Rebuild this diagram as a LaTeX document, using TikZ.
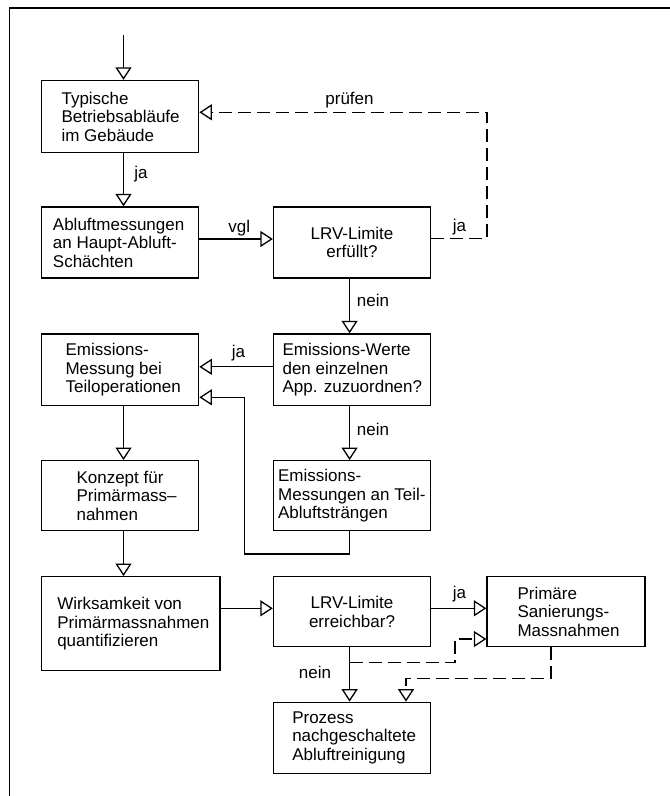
\documentclass[tikz,border=0pt]{standalone}
\usepackage{fontspec}
\setmainfont{Liberation Sans}
\usetikzlibrary{arrows.meta,calc}
\begin{document}
\begin{tikzpicture}[x=1pt,y=-1pt,
  every node/.style={font=\fontsize{17}{18.5}\selectfont},
  box/.style={draw, line width=1.3pt, minimum width=157pt, minimum height=71pt, inner sep=0pt, align=center},
  lt/.style={anchor=west, inner sep=0pt, align=left},
  conn/.style={line width=1.3pt, -{Triangle[open, length=12.5pt, width=16pt]}},
  dsh/.style={dash pattern=on 13pt off 6pt},
  lab/.style={anchor=base, inner sep=0pt}
]
\useasboundingbox (0,0) rectangle (670,796);
% frame
\draw[line width=1.5pt] (670,8) -- (9.3,8) -- (9.3,796);

% boxes
\node[box, minimum width=157.2pt, minimum height=72.2pt,
  label={[lt, xshift=20.5pt]west:{Typische\\Betriebsabläufe\\im Gebäude}}] (b1) at (120.1,116.6) {};
\node[box, minimum width=157.2pt,
  label={[lt, xshift=11.9pt]west:{Abluftmessungen\\an Haupt-Abluft-\\Schächten}}] (b2) at (120.1,242.5) {};
\node[box] (b3) at (352,242.5) {LRV-Limite\\erfüllt?};
\node[box, minimum width=157.2pt, minimum height=71.7pt,
  label={[lt, xshift=24.5pt]west:{Emissions-\\Messung bei\\Teiloperationen}}] (em) at (120.1,369.8) {};
\node[box, minimum height=71.7pt,
  label={[lt, xshift=9.5pt]west:{Emissions-Werte\\den einzelnen\\App. zuzuordnen?}}] (ew) at (352,369.8) {};
\node[box, minimum width=157.2pt, minimum height=70pt,
  label={[lt, xshift=35.5pt]west:{Konzept für\\Primärmass–\\nahmen}}] (ko) at (120.1,495.7) {};
\node[box, minimum height=70pt,
  label={[lt, xshift=5.1pt]west:{Emissions-\\Messungen an Teil-\\Abluftsträngen}}] (te) at (352,495.7) {};
\node[box, minimum width=178.5pt, minimum height=94pt,
  label={[lt, xshift=16.2pt]west:{Wirksamkeit von\\Primärmassnahmen\\quantifizieren}}] (wi) at (130.75,623.7) {};
\node[box, minimum height=70pt] (lr) at (352,611.7) {LRV-Limite\\erreichbar?};
\node[box, minimum width=158pt, minimum height=70pt,
  label={[lt, xshift=31pt]west:{Primäre\\Sanierungs-\\Massnahmen}}] (pr) at (566,611.7) {};
\node[box, minimum height=71pt,
  label={[lt, xshift=19.2pt]west:{Prozess\\nachgeschaltete\\Abluftreinigung}}] (pz) at (352,737.8) {};

% helper coordinates
\coordinate (s0) at (123.5,35);
\coordinate (xm) at (349.6,0);
\coordinate (d1) at (487,112.3);
\coordinate (c1) at (244.4,554);
\coordinate (y1) at ([yshift=3.4pt]lr.west);
\coordinate (j1) at (349.6,662.7);
\coordinate (d2) at (455,639);
\coordinate (d3) at (551,678.3);
\coordinate (d4) at (406,678.3);

% connectors
\draw[conn] (s0) -- (s0 |- b1.north);
\draw[conn] (b1.south -| s0) -- (b2.north -| s0);
\node[lab] (l1) at (141,178) {ja};
\draw[conn] ([yshift=3.5pt]b2.east) -- ([yshift=3.5pt]b3.west);
\node[lab] (l2) at (239.3,232) {vgl};
\draw[conn, dsh] ([yshift=4pt]b3.east) -| (d1) -- (d1 -| b1.east);
\node[lab] (l3) at (349.5,104) {prüfen};
\node[lab] (l4) at (459.4,231.7) {ja};
\draw[conn] (b3.south -| xm) -- (ew.north -| xm);
\node[lab] (l5) at (373,306) {nein};
\draw[conn] ([yshift=3pt]ew.west) -- ([yshift=3pt]em.east);
\node[lab] (l6) at (238.5,357.3) {ja};
\draw[conn] (ew.south -| xm) -- (te.north -| xm);
\node[lab] (l7) at (373,435.7) {nein};
\draw[conn] (te.south -| xm) |- (c1) |- ([yshift=-27.5pt]em.east);
\draw[conn] (em.south -| s0) -- (ko.north -| s0);
\draw[conn] (ko.south -| s0) -- (wi.north -| s0);
\draw[conn] (y1 -| wi.east) -- (y1);
\draw[conn] ([yshift=3.4pt]lr.east) -- ([yshift=3.4pt]pr.west);
\node[lab] (l8) at (459.4,598.3) {ja};
\draw[conn] (lr.south -| xm) -- (pz.north -| xm);
\node[lab] (l9) at (315,678.3) {nein};
\draw[conn, dsh] (j1) -| (d2) -- (d2 -| pr.west);
\draw[conn, dsh] (d3 |- pr.south) -- (d3) -- (d4) -- (d4 |- pz.north);
\end{tikzpicture}
\end{document}
